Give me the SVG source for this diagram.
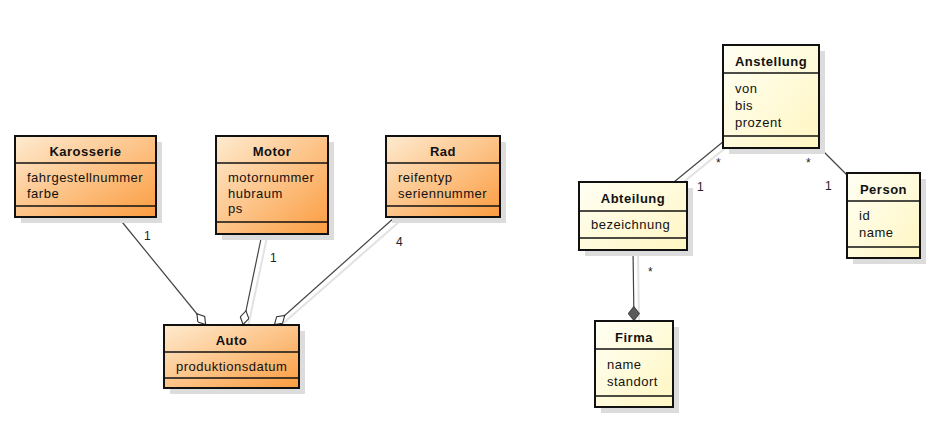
<svg xmlns="http://www.w3.org/2000/svg" width="939" height="430" viewBox="0 0 939 430">
<style>
text{font-family:"Liberation Sans",Arial,sans-serif;font-size:13px;letter-spacing:0.5px;fill:#111}
.t{font-weight:bold;text-anchor:middle}
.lbl{font-size:12px;letter-spacing:0;fill:#222}
.box{stroke:#111;stroke-width:2}
.div{stroke:#111;stroke-width:1.5}
.sh{fill:#dcdcdc}
.ln{stroke:#444;stroke-width:1.2;fill:none}
.lsh{stroke:#e2e2e2;stroke-width:2;fill:none}
.o{fill:url(#og)}
.y{fill:url(#yg)}
</style>
<defs>
<linearGradient id="og" x1="0" y1="0" x2="1" y2="1">
<stop offset="0" stop-color="#feebd0"/>
<stop offset="1" stop-color="#fb9c40"/>
</linearGradient>
<linearGradient id="yg" x1="0" y1="0" x2="1" y2="1">
<stop offset="0" stop-color="#fffff4"/>
<stop offset="1" stop-color="#fff6c2"/>
</linearGradient>
<marker id="agg" viewBox="0 0 15 10" refX="15" refY="5" markerWidth="15" markerHeight="10" markerUnits="userSpaceOnUse" orient="auto">
<path d="M0.6,5 L7.5,0.6 L14.4,5 L7.5,9.4 Z" fill="#fff" stroke="#333" stroke-width="1.1"/>
</marker>
<marker id="comp" viewBox="0 0 15 12" refX="15" refY="6" markerWidth="15" markerHeight="12" markerUnits="userSpaceOnUse" orient="auto">
<path d="M0.5,6 L7.5,0.5 L14.5,6 L7.5,11.5 Z" fill="#5a5a5a" stroke="#444" stroke-width="1"/>
</marker>
</defs>

<g id="connectors">
<line class="lsh" x1="267" y1="237" x2="248" y2="327"/>
<line class="lsh" x1="400" y1="221" x2="279" y2="327"/>
<line class="lsh" x1="729" y1="145" x2="680" y2="185"/>
<line class="lsh" x1="638" y1="253" x2="639" y2="323"/>
<line class="ln" x1="118" y1="217" x2="206" y2="325" marker-end="url(#agg)"/>
<line class="ln" x1="262" y1="234" x2="243" y2="325" marker-end="url(#agg)"/>
<line class="ln" x1="395" y1="217" x2="274" y2="325" marker-end="url(#agg)"/>
<line class="ln" x1="724" y1="141" x2="674" y2="182"/>
<line class="ln" x1="819" y1="147" x2="847" y2="175"/>
<line class="ln" x1="633" y1="250" x2="634" y2="321" marker-end="url(#comp)"/>
<text class="lbl" x="144" y="240">1</text>
<text class="lbl" x="270" y="262">1</text>
<text class="lbl" x="396" y="246">4</text>
<text class="lbl" x="716" y="167">*</text>
<text class="lbl" x="697" y="191">1</text>
<text class="lbl" x="806" y="167">*</text>
<text class="lbl" x="825" y="190">1</text>
<text class="lbl" x="648" y="276">*</text>
</g>

<g id="Karosserie">
<rect class="sh" x="21" y="142" width="141" height="81"/>
<rect class="box o" x="15" y="136" width="141" height="81"/>
<line class="div" x1="15" y1="163" x2="156" y2="163"/>
<line class="div" x1="15" y1="206" x2="156" y2="206"/>
<text class="t" x="85.5" y="156">Karosserie</text>
<text x="27" y="182">fahrgestellnummer</text>
<text x="27" y="198">farbe</text>
</g>

<g id="Motor">
<rect class="sh" x="222" y="142" width="112" height="98"/>
<rect class="box o" x="216" y="136" width="112" height="98"/>
<line class="div" x1="216" y1="163" x2="328" y2="163"/>
<line class="div" x1="216" y1="222" x2="328" y2="222"/>
<text class="t" x="272" y="156">Motor</text>
<text x="228" y="182">motornummer</text>
<text x="228" y="197.5">hubraum</text>
<text x="228" y="213">ps</text>
</g>

<g id="Rad">
<rect class="sh" x="392" y="142" width="114" height="81"/>
<rect class="box o" x="386" y="136" width="114" height="81"/>
<line class="div" x1="386" y1="163" x2="500" y2="163"/>
<line class="div" x1="386" y1="206" x2="500" y2="206"/>
<text class="t" x="443" y="156">Rad</text>
<text x="398" y="182">reifentyp</text>
<text x="398" y="198">seriennummer</text>
</g>

<g id="Auto">
<rect class="sh" x="170" y="331" width="135" height="63"/>
<rect class="box o" x="164" y="325" width="135" height="63"/>
<line class="div" x1="164" y1="352" x2="299" y2="352"/>
<line class="div" x1="164" y1="378" x2="299" y2="378"/>
<text class="t" x="231.5" y="345">Auto</text>
<text x="176" y="371">produktionsdatum</text>
</g>

<g id="Anstellung">
<rect class="sh" x="729" y="51" width="96" height="103"/>
<rect class="box y" x="723" y="45" width="96" height="103"/>
<line class="div" x1="723" y1="73" x2="819" y2="73"/>
<line class="div" x1="723" y1="136" x2="819" y2="136"/>
<text class="t" x="771" y="66">Anstellung</text>
<text x="735" y="93">von</text>
<text x="735" y="110">bis</text>
<text x="735" y="127">prozent</text>
</g>

<g id="Abteilung">
<rect class="sh" x="585" y="188" width="108" height="68"/>
<rect class="box y" x="579" y="182" width="108" height="68"/>
<line class="div" x1="579" y1="211" x2="687" y2="211"/>
<line class="div" x1="579" y1="238" x2="687" y2="238"/>
<text class="t" x="633" y="203">Abteilung</text>
<text x="591" y="229">bezeichnung</text>
</g>

<g id="Person">
<rect class="sh" x="853" y="179" width="73" height="85"/>
<rect class="box y" x="847" y="173" width="73" height="85"/>
<line class="div" x1="847" y1="201" x2="920" y2="201"/>
<line class="div" x1="847" y1="247" x2="920" y2="247"/>
<text class="t" x="883.5" y="193.5">Person</text>
<text x="859" y="220">id</text>
<text x="859" y="237">name</text>
</g>

<g id="Firma">
<rect class="sh" x="601" y="327" width="78" height="86"/>
<rect class="box y" x="595" y="321" width="78" height="86"/>
<line class="div" x1="595" y1="349" x2="673" y2="349"/>
<line class="div" x1="595" y1="396" x2="673" y2="396"/>
<text class="t" x="634" y="342">Firma</text>
<text x="607" y="368.5">name</text>
<text x="607" y="386">standort</text>
</g>
</svg>
